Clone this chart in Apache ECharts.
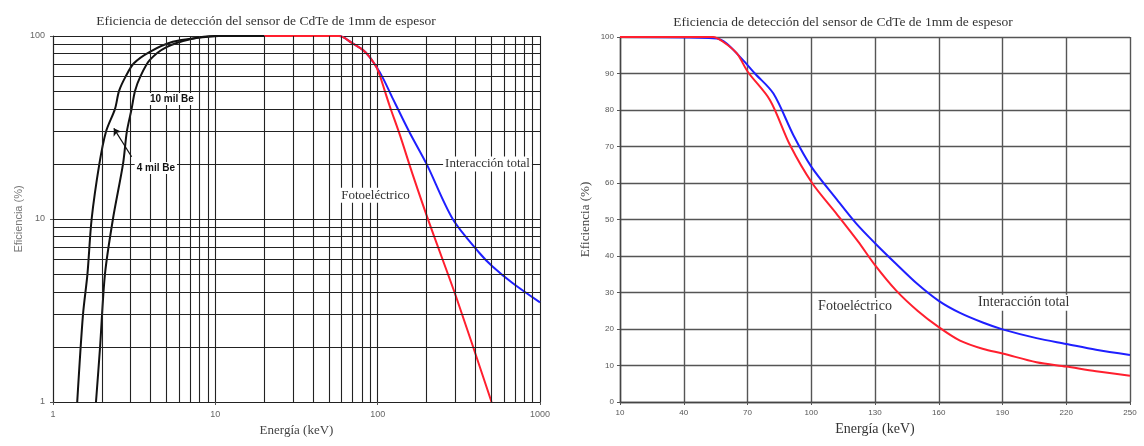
<!DOCTYPE html>
<html><head><meta charset="utf-8">
<script src="https://cdn.jsdelivr.net/npm/echarts@6/dist/echarts.min.js"></script>
<style>html,body{margin:0;padding:0;background:#fff}#c{width:1144px;height:446px}</style>
</head><body><div id="c"></div>
<script>
const titleText = 'Eficiencia de detección del sensor de CdTe de 1mm de espesor';

// ---------- Left chart (log-log) ----------
const be4Energy = [1.41, 1.53, 1.63, 1.73, 1.93, 2.12, 2.41, 2.55, 2.8, 3.15, 3.95, 5.47, 8.0, 10.5, 20];
const be4Eff    = [1, 3, 5, 10, 20, 30, 40, 50, 60, 71, 82, 93, 98, 100, 100];
const be10Energy = [1.84, 1.95, 2.09, 2.34, 2.7, 2.85, 3.05, 3.2, 3.45, 3.95, 5.0, 7.0, 10, 20];
const be10Eff    = [1, 2, 5, 10, 20, 30, 40, 50, 60, 74, 87, 96, 100, 100];
const logPhotoEnergy = [20, 58, 69, 81, 89, 98, 103, 118, 137, 164, 209, 306, 503];
const logPhotoEff    = [100, 100, 92, 84, 77, 68, 61, 42, 28.8, 17.6, 9.4, 3.7, 1];
const logTotalEnergy = [20, 58, 69, 81, 89, 98, 108, 124, 157, 200, 290, 425, 510, 677, 1000];
const logTotalEff    = [100, 100, 92, 84, 77, 68, 58.7, 45.5, 29.8, 20, 10, 6.5, 5.5, 4.47, 3.5];
const leftXMinor = [2,3,4,5,6,7,8,9,20,30,40,50,60,70,80,90,200,300,400,500,600,700,800,900];
const leftYMinor = [2,3,4,5,6,7,8,9,20,30,40,50,60,70,80,90];

// ---------- Right chart (linear) ----------
const linPhotoEnergy = [10, 53.8, 58.5, 65, 70.2, 80.6, 90, 100.4, 112, 122, 130, 140, 150, 160, 170, 181, 190, 206, 220, 234, 250];
const linPhotoEff    = [100, 100, 98.7, 95.5, 90.4, 82.7, 70.4, 60, 51.5, 44, 37.5, 30.5, 25, 20.5, 16.8, 14.5, 13.3, 10.9, 9.7, 8.4, 7.2];
const linTotalEnergy = [10, 55.5, 60.2, 68, 73.5, 82.2, 91.6, 100, 112, 121, 130, 140, 150, 160, 170, 181, 190, 206, 220, 234, 250];
const linTotalEff    = [100, 99.6, 98.2, 93.6, 90, 84.5, 73.1, 64.5, 55.5, 49, 43.5, 37.8, 32.3, 27.7, 24.4, 21.7, 19.9, 17.5, 15.9, 14.3, 12.9];

const zip = (a, b) => a.map((v, i) => [v, b[i]]);
const RED = '#ff1f2e', BLUE = '#1f1fff', BLACK = '#111';
const serif = 'Liberation Serif';
const sans = 'Liberation Sans';

function textMark(coord, text, style) {
  return {
    coord: coord, symbol: 'circle', symbolSize: 0,
    label: Object.assign({
      show: true, position: 'inside', formatter: text,
      backgroundColor: '#fff', padding: [1, 2], color: '#333',
      fontFamily: serif, fontSize: 13
    }, style || {})
  };
}

const gridLineL = { color: '#222', width: 1.1 };
const gridLineR = { color: '#555', width: 1.4 };
const curve = { showSymbol: false, smooth: 0.3 };

const option = {
  animation: false,
  backgroundColor: '#fff',
  title: [
    { text: titleText, left: 261, top: 9, textAlign: 'center',
      textStyle: { fontFamily: serif, fontSize: 13.5, fontWeight: 'normal', color: '#333' } },
    { text: titleText, left: 838, top: 10, textAlign: 'center',
      textStyle: { fontFamily: serif, fontSize: 13.5, fontWeight: 'normal', color: '#333' } }
  ],
  grid: [
    { left: 53, top: 36, width: 487, height: 366 },
    { left: 620, top: 37, width: 510, height: 365 }
  ],
  xAxis: [
    { gridIndex: 0, type: 'log', logBase: 10, min: 1, max: 1000,
      name: 'Energía (keV)', nameLocation: 'middle', nameGap: 20,
      nameTextStyle: { fontFamily: serif, fontSize: 13, color: '#444' },
      axisLine: { show: true, lineStyle: { color: '#222', width: 1.1 } },
      axisTick: { show: true, length: 3, inside: false, lineStyle: { color: '#555' } },
      axisLabel: { fontFamily: sans, fontSize: 9, color: '#666', margin: 8, formatter: v => String(v) },
      splitLine: { show: true, lineStyle: gridLineL },
      minorTick: { show: false }, minorSplitLine: { show: false } },
    { gridIndex: 1, type: 'value', min: 10, max: 250, interval: 30,
      name: 'Energía (keV)', nameLocation: 'middle', nameGap: 20,
      nameTextStyle: { fontFamily: serif, fontSize: 14, color: '#333' },
      axisLine: { show: true, lineStyle: { color: '#444', width: 1.4 } },
      axisTick: { show: true, length: 3, lineStyle: { color: '#555' } },
      axisLabel: { fontFamily: sans, fontSize: 8, color: '#555', margin: 7 },
      splitLine: { show: true, lineStyle: gridLineR } }
  ],
  yAxis: [
    { gridIndex: 0, type: 'log', logBase: 10, min: 1, max: 100,
      name: 'Eficiencia (%)', nameLocation: 'middle', nameGap: 29, nameRotate: 90,
      nameTextStyle: { fontFamily: sans, fontSize: 11, color: '#777' },
      axisLine: { show: true, lineStyle: { color: '#222', width: 1.1 } },
      axisTick: { show: true, length: 3, lineStyle: { color: '#555' } },
      axisLabel: { fontFamily: sans, fontSize: 9, color: '#666', margin: 8, formatter: v => String(v) },
      splitLine: { show: true, lineStyle: gridLineL } },
    { gridIndex: 1, type: 'value', min: 0, max: 100, interval: 10,
      name: 'Eficiencia (%)', nameLocation: 'middle', nameGap: 28, nameRotate: 90,
      nameTextStyle: { fontFamily: serif, fontSize: 13, color: '#444' },
      axisLine: { show: true, lineStyle: { color: '#444', width: 1.4 } },
      axisTick: { show: true, length: 3, lineStyle: { color: '#555' } },
      axisLabel: { fontFamily: sans, fontSize: 8, color: '#555', margin: 6 },
      splitLine: { show: true, lineStyle: gridLineR } }
  ],
  series: [
    // minor log grid lines (left chart)
    { type: 'line', xAxisIndex: 0, yAxisIndex: 0, data: [], silent: true, z: 1,
      markLine: { silent: true, symbol: ['none', 'none'], label: { show: false },
        lineStyle: { color: '#222', width: 1.1, type: 'solid' },
        emphasis: { disabled: true },
        data: leftXMinor.map(v => ({ xAxis: v })).concat(leftYMinor.map(v => ({ yAxis: v }))) } },
    Object.assign({ name: '4 mil Be', type: 'line', xAxisIndex: 0, yAxisIndex: 0, data: zip(be4Energy, be4Eff),
      lineStyle: { color: BLACK, width: 2 }, z: 3,
      markLine: { silent: true, symbol: ['none', 'arrow'], symbolSize: 7, label: { show: false },
        lineStyle: { color: BLACK, width: 1.2, type: 'solid' },
        data: [[{ coord: [3.05, 21.9] }, { coord: [2.37, 31.3] }]] },
      markPoint: { silent: true, data: [
        textMark([4.3, 19], '4 mil Be', { fontFamily: sans, fontWeight: 'bold', fontSize: 10, color: '#111' }),
        textMark([5.4, 45.3], '10 mil Be', { fontFamily: sans, fontWeight: 'bold', fontSize: 10, color: '#111' })
      ] } }, curve),
    Object.assign({ name: '10 mil Be', type: 'line', xAxisIndex: 0, yAxisIndex: 0, data: zip(be10Energy, be10Eff),
      lineStyle: { color: BLACK, width: 2 }, z: 3 }, curve),
    Object.assign({ name: 'Interacción total', type: 'line', xAxisIndex: 0, yAxisIndex: 0, data: zip(logTotalEnergy, logTotalEff),
      lineStyle: { color: BLUE, width: 2 }, z: 3,
      markPoint: { silent: true, data: [ textMark([475, 20], 'Interacción total') ] } }, curve),
    Object.assign({ name: 'Fotoeléctrico', type: 'line', xAxisIndex: 0, yAxisIndex: 0, data: zip(logPhotoEnergy, logPhotoEff),
      lineStyle: { color: RED, width: 2 }, z: 4,
      markPoint: { silent: true, data: [ textMark([97, 13.5], 'Fotoeléctrico') ] } }, curve),
    // right chart
    Object.assign({ name: 'Interacción total', type: 'line', xAxisIndex: 1, yAxisIndex: 1, data: zip(linTotalEnergy, linTotalEff),
      lineStyle: { color: BLUE, width: 2 }, z: 3,
      markPoint: { silent: true, data: [ textMark([200, 27.2], 'Interacción total', { fontSize: 14 }) ] } }, curve),
    Object.assign({ name: 'Fotoeléctrico', type: 'line', xAxisIndex: 1, yAxisIndex: 1, data: zip(linPhotoEnergy, linPhotoEff),
      lineStyle: { color: RED, width: 2 }, z: 4,
      markPoint: { silent: true, data: [ textMark([120.6, 26.3], 'Fotoeléctrico', { fontSize: 14 }) ] } }, curve)
  ]
};

const chart = echarts.init(document.getElementById('c'), null, { renderer: 'canvas' });
chart.setOption(option);
</script>
</body></html>
